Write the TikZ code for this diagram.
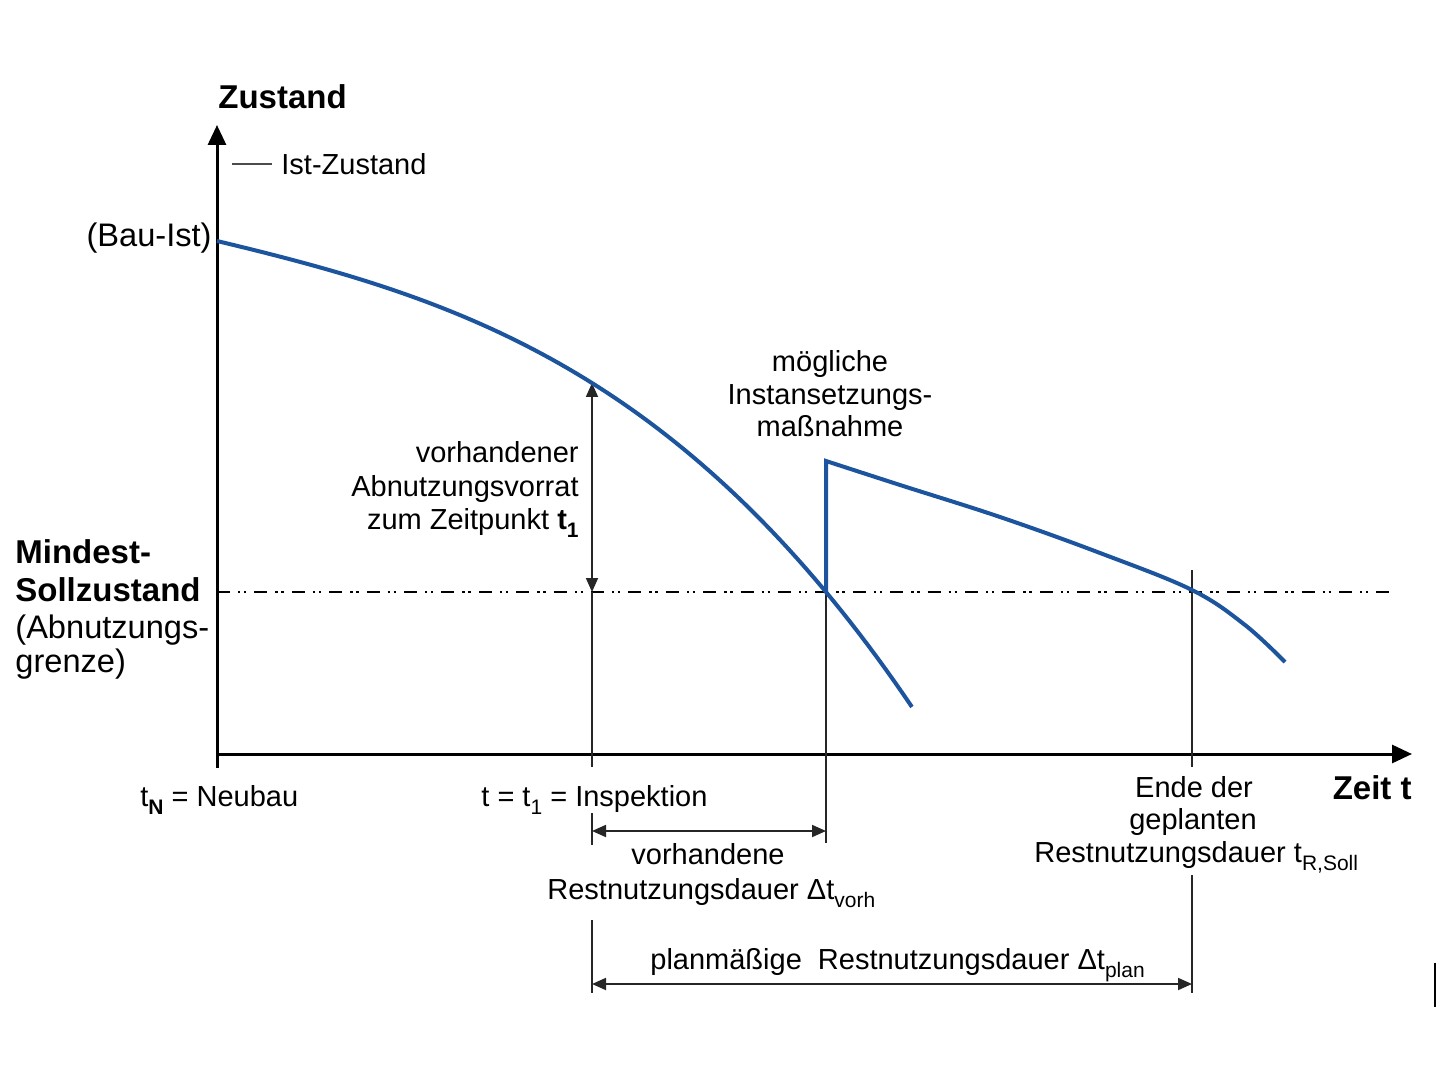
\documentclass[tikz,border=0pt]{standalone}
\usepackage{fontspec}
\setmainfont{Liberation Sans}
\usetikzlibrary{arrows.meta}
\definecolor{curveblue}{RGB}{28,84,158}
\newcommand\lsub[1]{\raisebox{-0.55ex}{\fontsize{10.5}{10.5}\selectfont #1}}
\begin{document}
\begin{tikzpicture}[x=0.5pt,y=-0.5pt,
 lbl/.style={font=\fontsize{14.5}{16.5}\selectfont, inner sep=0pt},
 biglbl/.style={font=\fontsize{16.3}{18.5}\selectfont, inner sep=0pt},
 blbl/.style={font=\fontsize{16.5}{18.5}\selectfont\bfseries, inner sep=0pt},
 axis/.style={line width=1.5pt, -{Triangle[length=10pt,width=9pt]}},
 thinline/.style={line width=0.9pt, draw=black!85},
 dim/.style={thinline, {Triangle[length=7pt,width=6pt]}-{Triangle[length=7pt,width=6pt]}},
 curve/.style={draw=curveblue, line width=2pt},
 mindest/.style={line width=1pt, dash pattern=on 6.5pt off 4pt on 1.2pt off 1.8pt on 1.2pt off 4pt}
]
\useasboundingbox (0,0) rectangle (1440,1080);

% coordinates
\coordinate (O) at (217,754);
\coordinate (Ytop) at (217,125);
\coordinate (Xend) at (1412,754);
\coordinate (Otick) at (217,768);
\coordinate (M0) at (217,592);
\coordinate (M1) at (1395,592);
\coordinate (A1top) at (592,383);
\coordinate (A1bot) at (592,592);
\coordinate (A1tick) at (592,767);
\coordinate (A1s1) at (592,813);
\coordinate (A1s2) at (592,845);
\coordinate (A1s3) at (592,920);
\coordinate (A1s4) at (592,993);
\coordinate (Jlow) at (826,592);
\coordinate (Jhigh) at (826,461);
\coordinate (Jbot) at (826,843);
\coordinate (Etop) at (1192,570);
\coordinate (Etick) at (1192,767);
\coordinate (Es1) at (1192,875);
\coordinate (Es2) at (1192,993);
\coordinate (V0) at (592,831);
\coordinate (V1) at (826,831);
\coordinate (P0) at (592,984);
\coordinate (P1) at (1192,984);
\coordinate (L0) at (232,164);
\coordinate (L1) at (272,164);
\coordinate (S0) at (1435,963);
\coordinate (S1) at (1435,1007);

% axes
\draw[axis] (O) -- (Ytop);
\draw[axis] (O) -- (Xend);
\draw[line width=1.5pt] (O) -- (Otick);

% Mindest-Sollzustand line
\draw[mindest] (M0) -- (M1);

% vertical guides
\draw[dim] (A1top) -- (A1bot);
\draw[thinline] (A1bot) -- (A1tick);
\draw[thinline] (A1s1) -- (A1s2);
\draw[thinline] (A1s3) -- (A1s4);
\draw[thinline] (Jlow) -- (Jbot);
\draw[thinline] (Etop) -- (Etick);
\draw[thinline] (Es1) -- (Es2);
\draw[dim] (V0) -- (V1);
\draw[dim] (P0) -- (P1);

% legend line
\draw[line width=0.9pt, draw=black!70] (L0) -- (L1);
% stray mark
\draw[line width=1pt] (S0) -- (S1);

% curves
\draw[curve] plot[domain=0:6.95, samples=80, variable=\u]
  ({217+100*\u}, {241 + 24.05*\u + 0.753*\u*\u + 0.782*\u*\u*\u});
\draw[curve, line join=miter] (Jlow) -- (Jhigh) -- plot[smooth, tension=0.6] coordinates
  {(826,461) (900,485) (1000,517) (1100,553) (1192,590) (1245,625) (1285,662)};

% texts
\node[blbl, anchor=base west] (zust) at (218,109) {Zustand};
\node[lbl, anchor=base west] (ist) at (281,175) {Ist-Zustand};
\node[biglbl, anchor=base east] (bauist) at (212,247) {(Bau-Ist)};
\node[blbl, anchor=base west] (mind1) at (15,563) {Mindest-};
\node[blbl, anchor=base west] (mind2) at (15,601) {Sollzustand};
\node[biglbl, anchor=base west] (mind3) at (15,638) {(Abnutzungs-};
\node[biglbl, anchor=base west] (mind4) at (15,672) {grenze)};
\node[lbl, anchor=base east] (vor1) at (579,463) {vorhandener};
\node[lbl, anchor=base east] (vor2) at (579,496) {Abnutzungsvorrat};
\node[lbl, anchor=base east] (vor3) at (579,529) {zum Zeitpunkt \textbf{t\lsub{1}}};
\node[lbl, anchor=base] (mog1) at (830,372) {mögliche};
\node[lbl, anchor=base] (mog2) at (830,405) {Instansetzungs-};
\node[lbl, anchor=base] (mog3) at (830,437) {maßnahme};
\node[lbl, anchor=base west] (tn) at (140,806) {t\lsub{\textbf{N}} = Neubau};
\node[lbl, anchor=base west] (insp) at (481,806) {t = t\lsub{1} = Inspektion};
\node[blbl, anchor=base east] (zeit) at (1412,799) {Zeit t};
\node[lbl, anchor=base] (ende1) at (1194,797) {Ende der};
\node[lbl, anchor=base] (ende2) at (1193,829) {geplanten};
\node[lbl, anchor=base west] (ende3) at (1034,862) {Restnutzungsdauer t\lsub{R,Soll}};
\node[lbl, anchor=base] (rv1) at (708,864) {vorhandene};
\node[lbl, anchor=base west] (rv2) at (547,899) {Restnutzungsdauer Δt\lsub{vorh}};
\node[lbl, anchor=base west] (rp) at (650,969) {planmäßige\ \ Restnutzungsdauer Δt\lsub{plan}};
\end{tikzpicture}
\end{document}
